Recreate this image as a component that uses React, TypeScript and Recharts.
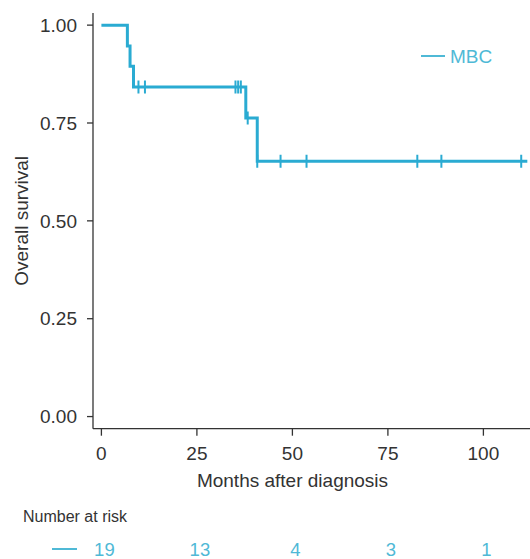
import { ComposedChart, Line, Scatter, XAxis, YAxis, Label } from "recharts"

const curveColor = "#2aabd2"
const riskColor = "#4fb9d6"
const axisColor = "#333333"
const font = "'Liberation Sans', Arial, sans-serif"

// Kaplan-Meier steps (months, survival)
const stepTimes = [0, 6.8, 7.5, 8.4, 37.8, 40.8, 111.5]
const stepSurvival = [1, 0.947, 0.895, 0.842, 0.763, 0.652, 0.652]

// censored observations
const censorTimes = [9.7, 11.4, 35.1, 35.8, 36.5, 38.3, 40.8, 46.9, 53.7, 82.7, 89.0, 109.9]
const censorSurvival = [0.842, 0.842, 0.842, 0.842, 0.842, 0.763, 0.652, 0.652, 0.652, 0.652, 0.652, 0.652]

const monthTicks = [0, 25, 50, 75, 100]
const survivalTicks = [0, 0.25, 0.5, 0.75, 1]
const numberAtRisk = [19, 13, 4, 3, 1]
const seriesName = "MBC"

const curveData = stepTimes.map((t, i) => ({ t, s: stepSurvival[i] }))
const censorData = censorTimes.map((t, i) => ({ t, s: censorSurvival[i] }))
const riskData = monthTicks.map((t, i) => ({ t, s: 0, n: numberAtRisk[i] }))

const CensorMark = (props: any) => {
  const { cx, cy } = props
  if (cx == null || cy == null) return null
  return <line x1={cx} x2={cx} y1={cy - 6.5} y2={cy + 6.5} stroke={curveColor} strokeWidth={2} />
}

export default function App() {
  return (
    <div style={{ position: "absolute", left: 0, top: 0, width: 530, height: 559, fontFamily: font }}>
      <ComposedChart
        width={530}
        height={559}
        margin={{ top: 13, right: 0, left: 0, bottom: 0 }}
      >
        <XAxis
          xAxisId={0}
          dataKey="t"
          type="number"
          domain={[-2.2, 112.2]}
          allowDataOverflow
          ticks={monthTicks}
          height={80}
          tickSize={7}
          tickMargin={11}
          stroke={axisColor}
          strokeWidth={1.3}
          tick={{ fill: axisColor, fontSize: 19, fontFamily: font }}
        >
          <Label
            value="Months after diagnosis"
            position="insideBottom"
            offset={22}
            dx={-19}
            style={{ fill: axisColor, fontSize: 19, fontFamily: font }}
          />
        </XAxis>
        <XAxis
          xAxisId="risk"
          dataKey="t"
          type="number"
          domain={[-2.2, 112.2]}
          allowDataOverflow
          ticks={monthTicks}
          tickFormatter={(v: number) => String(numberAtRisk[monthTicks.indexOf(v)] ?? "")}
          height={50.3}
          axisLine={false}
          tickLine={false}
          tickSize={0}
          tickMargin={34}
          tick={{ fill: riskColor, fontSize: 18.5, fontFamily: font, dx: 3 }}
        />
        <YAxis
          type="number"
          domain={[-0.031, 1.031]}
          allowDataOverflow
          ticks={survivalTicks}
          tickFormatter={(v: number) => v.toFixed(2)}
          width={93}
          tickSize={6}
          tickMargin={10}
          stroke={axisColor}
          strokeWidth={1.3}
          tick={{ fill: axisColor, fontSize: 19, fontFamily: font }}
        >
          <Label
            content={(p: any) => {
              const vb = p.viewBox || {}
              const cy = vb.y + vb.height / 2
              return (
                <text
                  x={22}
                  y={cy}
                  transform={`rotate(-90 22 ${cy})`}
                  textAnchor="middle"
                  dominantBaseline="central"
                  fill={axisColor}
                  fontSize={19}
                  fontFamily={font}
                >
                  Overall survival
                </text>
              )
            }}
          />
        </YAxis>
        <Line
          data={curveData}
          dataKey="s"
          type="stepAfter"
          stroke={curveColor}
          strokeWidth={3}
          dot={false}
          activeDot={false}
          isAnimationActive={false}
          name={seriesName}
        />
        <Scatter
          data={censorData}
          dataKey="s"
          shape={CensorMark}
          isAnimationActive={false}
        />
        {/* invisible series so the at-risk axis gets drawn */}
        <Scatter
          xAxisId="risk"
          data={riskData}
          dataKey="s"
          shape={() => <g />}
          isAnimationActive={false}
        />
      </ComposedChart>

      <div style={{ position: "absolute", left: 421, top: 54.7, width: 24, height: 2, background: riskColor }} />
      <div style={{ position: "absolute", left: 450, top: 46, fontSize: 19, lineHeight: "21px", color: riskColor }}>
        {seriesName}
      </div>

      <div style={{ position: "absolute", left: 23, top: 507, fontSize: 16, lineHeight: "19px", color: axisColor }}>
        Number at risk
      </div>
      <div style={{ position: "absolute", left: 52, top: 548, width: 25, height: 2, background: riskColor }} />
    </div>
  )
}
